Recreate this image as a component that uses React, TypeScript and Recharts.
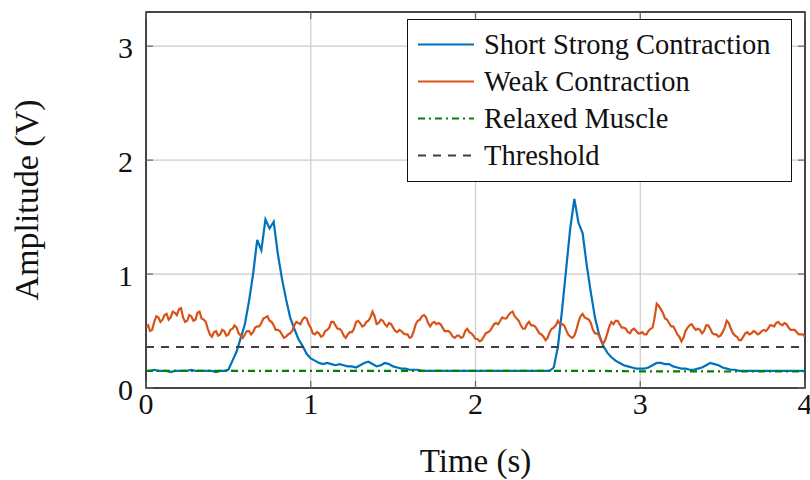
import React from 'react';
import { LineChart, Line, XAxis, YAxis, CartesianGrid, ReferenceArea } from 'recharts';

// EMG envelope recordings over 4 s
const STRONG_STEP = 0.025; // 25 ms sampling
const WEAK_STEP = 0.0125; // 12.5 ms sampling

const strongContraction = [
  0.15, 0.15, 0.16, 0.15, 0.15, 0.15, 0.14, 0.15, 0.15, 0.15,
  0.15, 0.16, 0.15, 0.15, 0.15, 0.15, 0.15, 0.14, 0.15, 0.15,
  0.16, 0.24, 0.32, 0.44, 0.56, 0.76, 1.00, 1.30, 1.21, 1.48,
  1.40, 1.46, 1.18, 0.96, 0.78, 0.62, 0.52, 0.43, 0.37, 0.30,
  0.26, 0.24, 0.22, 0.21, 0.22, 0.21, 0.20, 0.21, 0.20, 0.19,
  0.19, 0.18, 0.20, 0.22, 0.23, 0.21, 0.19, 0.20, 0.22, 0.21,
  0.19, 0.18, 0.17, 0.17, 0.16, 0.16, 0.16, 0.15, 0.15, 0.15,
  0.15, 0.15, 0.15, 0.15, 0.15, 0.15, 0.15, 0.15, 0.15, 0.15,
  0.15, 0.15, 0.15, 0.15, 0.15, 0.15, 0.15, 0.15, 0.15, 0.15,
  0.15, 0.15, 0.15, 0.15, 0.15, 0.15, 0.15, 0.15, 0.15, 0.18,
  0.36, 0.68, 1.04, 1.40, 1.66, 1.45, 1.36, 1.08, 0.84, 0.62,
  0.47, 0.37, 0.31, 0.27, 0.24, 0.22, 0.20, 0.19, 0.18, 0.17,
  0.17, 0.17, 0.18, 0.20, 0.22, 0.22, 0.21, 0.21, 0.19, 0.18,
  0.17, 0.17, 0.16, 0.16, 0.17, 0.18, 0.20, 0.22, 0.21, 0.20,
  0.18, 0.17, 0.16, 0.16, 0.15, 0.15, 0.15, 0.15, 0.15, 0.15,
  0.15, 0.15, 0.15, 0.15, 0.15, 0.15, 0.15, 0.15, 0.15, 0.15,
  0.15,
];

const weakContraction = [
  0.53, 0.55, 0.50, 0.51, 0.58, 0.63, 0.62, 0.58, 0.60, 0.64, 0.65, 0.60, 0.62, 0.67, 0.66, 0.64, 0.69, 0.70, 0.62, 0.58,
  0.59, 0.64, 0.63, 0.59, 0.60, 0.66, 0.67, 0.61, 0.60, 0.58, 0.52, 0.47, 0.45, 0.49, 0.50, 0.46, 0.47, 0.51, 0.50, 0.46,
  0.47, 0.51, 0.52, 0.55, 0.53, 0.48, 0.46, 0.44, 0.47, 0.50, 0.50, 0.47, 0.49, 0.53, 0.54, 0.54, 0.57, 0.61, 0.62, 0.63,
  0.59, 0.58, 0.55, 0.51, 0.51, 0.50, 0.47, 0.44, 0.45, 0.47, 0.48, 0.50, 0.55, 0.58, 0.57, 0.56, 0.60, 0.62, 0.61, 0.56,
  0.53, 0.48, 0.47, 0.49, 0.48, 0.45, 0.46, 0.50, 0.51, 0.53, 0.58, 0.58, 0.55, 0.52, 0.52, 0.50, 0.46, 0.44, 0.47, 0.49,
  0.49, 0.52, 0.58, 0.59, 0.57, 0.54, 0.55, 0.58, 0.59, 0.62, 0.67, 0.63, 0.56, 0.57, 0.60, 0.59, 0.56, 0.54, 0.57, 0.56,
  0.53, 0.50, 0.49, 0.51, 0.50, 0.48, 0.47, 0.47, 0.44, 0.45, 0.50, 0.56, 0.59, 0.60, 0.63, 0.64, 0.62, 0.57, 0.54, 0.57,
  0.58, 0.56, 0.57, 0.56, 0.53, 0.50, 0.50, 0.50, 0.48, 0.45, 0.44, 0.46, 0.46, 0.44, 0.45, 0.50, 0.52, 0.49, 0.48, 0.46,
  0.43, 0.43, 0.41, 0.42, 0.45, 0.48, 0.49, 0.50, 0.53, 0.56, 0.57, 0.56, 0.59, 0.62, 0.61, 0.61, 0.64, 0.66, 0.67, 0.63,
  0.61, 0.59, 0.55, 0.52, 0.52, 0.56, 0.58, 0.55, 0.55, 0.54, 0.51, 0.48, 0.47, 0.45, 0.42, 0.44, 0.49, 0.52, 0.53, 0.55,
  0.59, 0.56, 0.56, 0.55, 0.51, 0.47, 0.45, 0.44, 0.46, 0.51, 0.58, 0.63, 0.65, 0.62, 0.61, 0.60, 0.57, 0.51, 0.48, 0.48,
  0.46, 0.41, 0.39, 0.42, 0.48, 0.54, 0.58, 0.56, 0.59, 0.59, 0.56, 0.53, 0.53, 0.52, 0.49, 0.48, 0.51, 0.52, 0.50, 0.48,
  0.48, 0.49, 0.47, 0.47, 0.50, 0.52, 0.53, 0.62, 0.74, 0.72, 0.69, 0.66, 0.61, 0.60, 0.57, 0.54, 0.54, 0.51, 0.47, 0.45,
  0.41, 0.44, 0.50, 0.53, 0.55, 0.56, 0.53, 0.51, 0.52, 0.51, 0.48, 0.50, 0.55, 0.55, 0.52, 0.48, 0.47, 0.47, 0.45, 0.46,
  0.49, 0.53, 0.59, 0.57, 0.52, 0.48, 0.46, 0.45, 0.42, 0.42, 0.45, 0.48, 0.49, 0.47, 0.48, 0.50, 0.49, 0.47, 0.48, 0.50,
  0.51, 0.50, 0.52, 0.55, 0.55, 0.54, 0.57, 0.58, 0.56, 0.55, 0.57, 0.56, 0.53, 0.51, 0.51, 0.51, 0.49, 0.47, 0.47, 0.47,
  0.45,
];

// Relaxed muscle, sampled every 250 ms
const relaxedTimes = [0, 0.25, 0.5, 0.75, 1, 1.25, 1.5, 1.75, 2, 2.25, 2.5, 2.75, 3, 3.25, 3.5, 3.75, 4];
const relaxedMuscle = [0.15, 0.15, 0.15, 0.15, 0.15, 0.15, 0.15, 0.15, 0.15, 0.15, 0.15, 0.15, 0.146, 0.146, 0.145, 0.145, 0.145];

const thresholdLevel = 0.36;
const timeRange = [0, 4];
const timeTicks = [0, 1, 2, 3, 4];
const amplitudeTicks = [0, 1, 2, 3];
const amplitudeMax = 3.3;

const strongRows = strongContraction.map((v, i) => ({ t: Number((i * STRONG_STEP).toFixed(4)), strong: v }));
const weakRows = weakContraction.map((v, i) => ({ t: Number((i * WEAK_STEP).toFixed(4)), weak: v }));
const relaxedRows = relaxedTimes.map((t, i) => ({ t, relaxed: relaxedMuscle[i] }));
const thresholdRows = timeRange.map((t) => ({ t, threshold: thresholdLevel }));

const SERIES = [
  { key: 'strong', name: 'Short Strong Contraction', color: '#0072BD', dash: undefined as string | undefined },
  { key: 'weak', name: 'Weak Contraction', color: '#D95319', dash: undefined as string | undefined },
  { key: 'relaxed', name: 'Relaxed Muscle', color: '#008000', dash: '7 4 2 4' },
  { key: 'threshold', name: 'Threshold', color: '#404040', dash: '8 7' },
];

const W = 810;
const H = 480;
const PLOT = { left: 146, right: 805, top: 12, bottom: 388 };
const FONT = "'Liberation Serif', serif";
const TICK_LEN = 7;
const TICK_COLOR = '#666';
const LINE_W = 2.2;

const YTick = (props: any) => {
  const { x, y, payload } = props;
  return (
    <g>
      <line x1={PLOT.left} x2={PLOT.left + TICK_LEN} y1={y} y2={y} stroke={TICK_COLOR} strokeWidth={1.2} />
      <line x1={PLOT.right - TICK_LEN} x2={PLOT.right} y1={y} y2={y} stroke={TICK_COLOR} strokeWidth={1.2} />
      <text x={x} y={y} dy={12} textAnchor="end" fontFamily={FONT} fontSize={30} fill="#111">
        {payload.value}
      </text>
    </g>
  );
};

const XTick = (props: any) => {
  const { x, payload } = props;
  return (
    <g>
      <line x1={x} x2={x} y1={PLOT.bottom} y2={PLOT.bottom - TICK_LEN} stroke={TICK_COLOR} strokeWidth={1.2} />
      <line x1={x} x2={x} y1={PLOT.top} y2={PLOT.top + TICK_LEN} stroke={TICK_COLOR} strokeWidth={1.2} />
      <text x={x} y={PLOT.bottom + 26} textAnchor="middle" fontFamily={FONT} fontSize={30} fill="#111">
        {payload.value}
      </text>
    </g>
  );
};

const XTitle = () => (
  <text x={(PLOT.left + PLOT.right) / 2} y={472} textAnchor="middle" fontFamily={FONT} fontSize={33} fill="#111">
    Time (s)
  </text>
);

const YTitle = () => (
  <text
    transform={`translate(38, ${(PLOT.top + PLOT.bottom) / 2}) rotate(-90)`}
    textAnchor="middle"
    fontFamily={FONT}
    fontSize={34}
    fill="#111"
  >
    Amplitude (V)
  </text>
);

const LegendBox = () => (
  <div
    style={{
      position: 'absolute',
      left: 407,
      top: 19,
      width: 385,
      height: 163,
      boxSizing: 'border-box',
      border: '1.5px solid #111',
      background: '#fff',
      paddingTop: 6,
      fontFamily: FONT,
      fontSize: 28.5,
      color: '#111',
    }}
  >
    {SERIES.map((s) => (
      <div key={s.key} style={{ display: 'flex', alignItems: 'center', height: 37, whiteSpace: 'nowrap' }}>
        <svg width={76} height={37} style={{ flex: 'none' }}>
          <line x1={10} x2={66} y1={18.5} y2={18.5} stroke={s.color} strokeWidth={LINE_W} strokeDasharray={s.dash} />
        </svg>
        <span style={{ lineHeight: '37px' }}>{s.name}</span>
      </div>
    ))}
  </div>
);

export default function App() {
  return (
    <div style={{ position: 'absolute', left: 0, top: 0, width: W, height: H, background: '#fff' }}>
      <LineChart width={W} height={H} margin={{ top: PLOT.top, right: W - PLOT.right, bottom: 0, left: 0 }}>
        <CartesianGrid stroke="#cccccc" strokeWidth={1.2} />
        <XAxis
          dataKey="t"
          type="number"
          domain={timeRange}
          ticks={timeTicks}
          allowDataOverflow
          height={H - PLOT.bottom}
          axisLine={false}
          tickLine={false}
          tickSize={0}
          tickMargin={0}
          tick={<XTick />}
          interval={0}
          label={{ content: () => <XTitle /> }}
        />
        <YAxis
          type="number"
          domain={[0, amplitudeMax]}
          ticks={amplitudeTicks}
          allowDataOverflow
          width={PLOT.left}
          axisLine={false}
          tickLine={false}
          tickSize={0}
          tickMargin={13}
          tick={<YTick />}
          interval={0}
          label={{ content: () => <YTitle /> }}
        />
        <Line data={strongRows} dataKey="strong" stroke={SERIES[0].color} strokeWidth={LINE_W} dot={false} isAnimationActive={false} />
        <Line data={weakRows} dataKey="weak" stroke={SERIES[1].color} strokeWidth={LINE_W} dot={false} isAnimationActive={false} />
        <Line
          data={relaxedRows}
          dataKey="relaxed"
          stroke={SERIES[2].color}
          strokeWidth={LINE_W}
          strokeDasharray={SERIES[2].dash}
          dot={false}
          isAnimationActive={false}
        />
        <Line
          data={thresholdRows}
          dataKey="threshold"
          stroke={SERIES[3].color}
          strokeWidth={LINE_W}
          strokeDasharray={SERIES[3].dash}
          dot={false}
          isAnimationActive={false}
        />
        <ReferenceArea
          x1={timeRange[0]}
          x2={timeRange[1]}
          y1={0}
          y2={amplitudeMax}
          fill="none"
          fillOpacity={0}
          stroke="#111"
          strokeWidth={1.5}
          ifOverflow="visible"
        />
      </LineChart>
      <LegendBox />
    </div>
  );
}
